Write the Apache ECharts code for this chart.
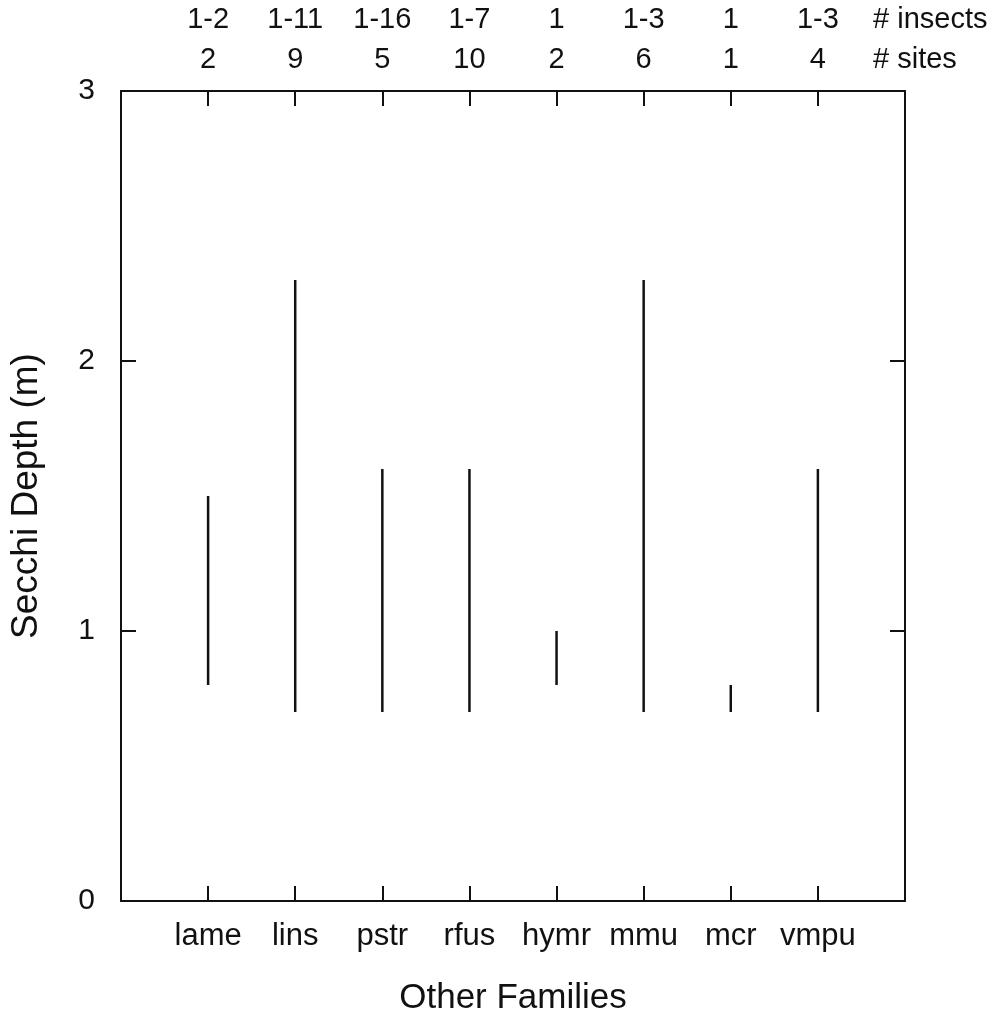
<!DOCTYPE html>
<html>
<head>
<meta charset="utf-8">
<script src="https://cdn.jsdelivr.net/npm/echarts@6/dist/echarts.min.js"></script>
<style>
  html, body { margin: 0; padding: 0; background: #fff; }
  #chart { width: 1002px; height: 1030px; }
</style>
</head>
<body>
<div id="chart"></div>
<script>
// Families shown along the x axis
const families = ['lame', 'lins', 'pstr', 'rfus', 'hymr', 'mmu', 'mcr', 'vmpu'];
// Secchi depth range (m) where each family was found
const depthLow  = [0.8, 0.7, 0.7, 0.7, 0.8, 0.7, 0.7, 0.7];
const depthHigh = [1.5, 2.3, 1.6, 1.6, 1.0, 2.3, 0.8, 1.6];
// Annotation rows above the plot
const insectCounts = ['1-2', '1-11', '1-16', '1-7', '1', '1-3', '1', '1-3'];
const siteCounts   = ['2', '9', '5', '10', '2', '6', '1', '4'];
const yTicks = [0, 1, 2, 3];

const FONT = '"Liberation Sans", Arial, sans-serif';
const INK = '#111';

// family i sits at x = i + 1 on a 0..9 scale
const pos = families.map((_, i) => i + 1);
const rangeData = families.map((_, i) => [pos[i], depthLow[i], depthHigh[i]]);

function labelAt(list) {
  return v => {
    const i = Math.round(v) - 1;
    return (i >= 0 && i < list.length && Math.abs(v - (i + 1)) < 1e-6) ? list[i] : '';
  };
}

const chart = echarts.init(document.getElementById('chart'), null, { renderer: 'canvas' });

const frameLine = { show: true, onZero: false, lineStyle: { color: INK, width: 2 } };
const frameTick = { show: true, inside: true, length: 15, lineStyle: { color: INK, width: 2 } };
const baseX = { type: 'value', min: 0, max: 9, interval: 1, splitLine: { show: false } };

chart.setOption({
  backgroundColor: '#fff',
  animation: false,
  grid: { left: 121, right: 97, top: 91, bottom: 129, containLabel: false },
  xAxis: [
    Object.assign({}, baseX, {
      position: 'bottom',
      name: 'Other Families',
      nameLocation: 'middle',
      nameGap: 80,
      nameTextStyle: { fontFamily: FONT, fontSize: 35, color: INK },
      axisLine: frameLine,
      axisTick: frameTick,
      axisLabel: { show: true, margin: 20, fontFamily: FONT, fontSize: 31, color: INK,
                   formatter: labelAt(families) }
    }),
    Object.assign({}, baseX, {
      position: 'top',
      axisLine: frameLine,
      axisTick: frameTick,
      axisLabel: { show: false }
    }),
    Object.assign({}, baseX, {
      position: 'top',
      offset: 31,
      name: '# sites',
      nameLocation: 'end',
      nameGap: -32,
      nameTextStyle: { fontFamily: FONT, fontSize: 29, color: INK, verticalAlign: 'middle' },
      axisLine: { show: false, onZero: false },
      axisTick: { show: false },
      axisLabel: { show: true, margin: 0, verticalAlign: 'middle', fontFamily: FONT, fontSize: 29,
                   color: INK, formatter: labelAt(siteCounts) }
    }),
    Object.assign({}, baseX, {
      position: 'top',
      offset: 71,
      name: '# insects',
      nameLocation: 'end',
      nameGap: -32,
      nameTextStyle: { fontFamily: FONT, fontSize: 29, color: INK, verticalAlign: 'middle' },
      axisLine: { show: false, onZero: false },
      axisTick: { show: false },
      axisLabel: { show: true, margin: 0, verticalAlign: 'middle', fontFamily: FONT, fontSize: 29,
                   color: INK, formatter: labelAt(insectCounts) }
    })
  ],
  yAxis: [
    {
      type: 'value', min: yTicks[0], max: yTicks[yTicks.length - 1], interval: 1,
      position: 'left',
      name: 'Secchi Depth (m)',
      nameLocation: 'middle',
      nameGap: 76,
      nameRotate: 90,
      nameTextStyle: { fontFamily: FONT, fontSize: 37, color: INK },
      splitLine: { show: false },
      axisLine: frameLine,
      axisTick: frameTick,
      axisLabel: { margin: 26, fontFamily: FONT, fontSize: 30, color: INK }
    },
    {
      type: 'value', min: yTicks[0], max: yTicks[yTicks.length - 1], interval: 1,
      position: 'right',
      splitLine: { show: false },
      axisLine: frameLine,
      axisTick: frameTick,
      axisLabel: { show: false }
    }
  ],
  series: [{
    type: 'custom',
    xAxisIndex: 0,
    yAxisIndex: 0,
    data: rangeData,
    encode: { x: 0, y: [1, 2] },
    renderItem: (params, api) => {
      const lo = api.coord([api.value(0), api.value(1)]);
      const hi = api.coord([api.value(0), api.value(2)]);
      return {
        type: 'line',
        shape: { x1: lo[0], y1: lo[1], x2: hi[0], y2: hi[1] },
        style: { stroke: INK, lineWidth: 2.5 }
      };
    }
  }]
});
</script>
</body>
</html>
